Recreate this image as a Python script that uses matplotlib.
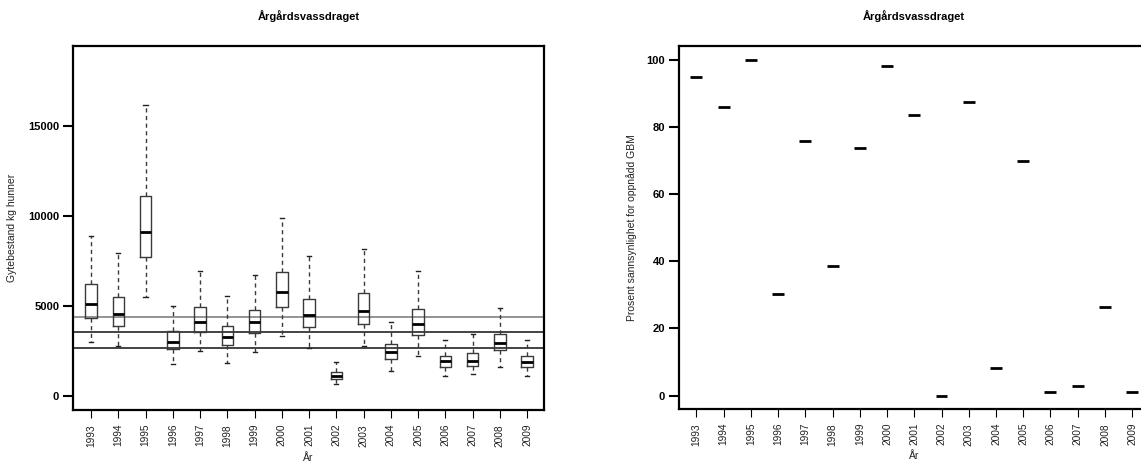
import matplotlib
matplotlib.use("Agg")
import matplotlib.pyplot as plt

plt.rcParams['font.family'] = ['Liberation Sans', 'DejaVu Sans']

years = [str(y) for y in range(1993, 2010)]
whislo = [3000, 2796, 5481, 1796, 2500, 1833, 2426, 3352, 2648, 667, 2759, 1370, 2222, 1111, 1241, 1630, 1093]
q1     = [4315, 3889, 7704, 2611, 3556, 2815, 3500, 4944, 3852, 926, 4000, 2056, 3389, 1630, 1685, 2537, 1630]
med    = [5111, 4556, 9111, 3000, 4093, 3259, 4093, 5778, 4519, 1130, 4722, 2444, 3981, 1944, 1944, 2926, 1907]
q3     = [6204, 5518, 11093, 3593, 4926, 3907, 4778, 6907, 5407, 1315, 5704, 2870, 4815, 2204, 2407, 3444, 2241]
whishi = [8906, 7963, 16167, 5000, 6963, 5574, 6704, 9870, 7796, 1907, 8185, 4093, 6944, 3130, 3426, 4889, 3130]
ref_lines = [4406, 3539, 2650]
prob = [95.1, 86.0, 100.0, 30.3, 75.8, 38.5, 73.8, 98.3, 83.7, 0.0, 87.5, 8.3, 69.8, 1.2, 3.0, 26.4, 1.0]

title = "Årgårdsvassdraget"

fig = plt.figure(figsize=(11.41, 4.63), dpi=100)
ax1 = fig.add_axes([0.064, 0.1145, 0.4128, 0.786])
ax2 = fig.add_axes([0.5951, 0.1166, 0.412, 0.7840])

pos = list(range(1, len(years) + 1))
stats = [dict(med=m, q1=a, q3=b, whislo=lo, whishi=hi, fliers=[], label=y)
         for m, a, b, lo, hi, y in zip(med, q1, q3, whislo, whishi, years)]
ax1.bxp(stats, positions=pos, widths=0.42, showfliers=False,
        boxprops=dict(color='#3a3a3a', lw=1.0),
        whiskerprops=dict(color='#3a3a3a', lw=1.0, linestyle=(0, (3, 2.5))),
        capprops=dict(color='#222222', lw=1.0),
        medianprops=dict(color='black', lw=2.0),
        capwidths=0.15)
colors = ['#777777', '#111111', '#111111']
for v, c in zip(ref_lines, colors):
    ax1.axhline(v, color=c, lw=1.1, zorder=1)
ax1.set_xlim(0.34, 17.62)
ax1.set_ylim(-780, 19440)
ax1.set_yticks([0, 5000, 10000, 15000])

ax2.hlines(prob, [p - 0.22 for p in pos], [p + 0.22 for p in pos], color='black', lw=2.0)
ax2.set_xlim(0.365, 17.62)
ax2.set_ylim(-4.0, 104.2)
ax2.set_yticks([0, 20, 40, 60, 80, 100])

for ax in (ax1, ax2):
    ax.set_xticks(pos)
    ax.set_xticklabels(years, rotation=90, fontsize=7.3, color='#222222')
    for lab in ax.get_yticklabels():
        lab.set_fontweight('bold')
        lab.set_fontsize(8)
    ax.tick_params(axis='y', length=7, width=1.5, pad=3)
    ax.tick_params(axis='x', length=6, width=0.8, pad=4)
    for s in ax.spines.values():
        s.set_linewidth(1.6)
    ax.set_title(title, fontsize=8, fontweight='bold', pad=19)
    ax.set_xlabel("År", fontsize=7.5, color='#222222')
    ax.xaxis.set_label_coords(0.5, -0.117)

ax1.set_ylabel("Gytebestand kg hunner", fontsize=7.5, color='#222222')
ax1.yaxis.set_label_coords(-0.119, 0.5)
ax2.set_ylabel("Prosent sannsynlighet for oppnådd GBM", fontsize=7.5, color='#222222')
ax2.yaxis.set_label_coords(-0.089, 0.5)

fig.savefig("out.png", dpi=100)
